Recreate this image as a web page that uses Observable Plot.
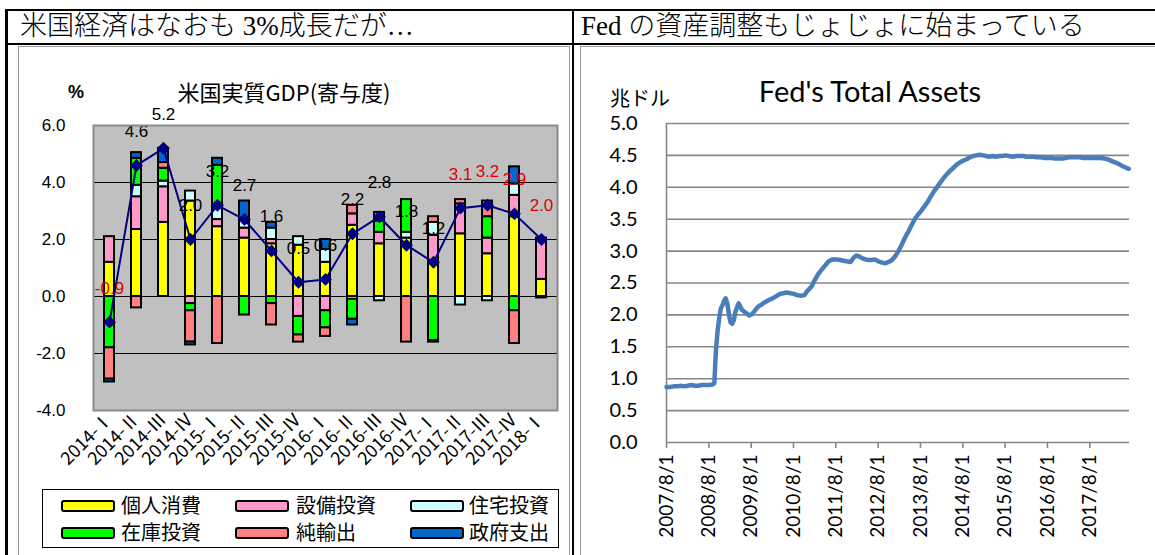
<!DOCTYPE html>
<html><head><meta charset="utf-8">
<script src="https://cdn.jsdelivr.net/npm/d3@7"></script>
<script src="https://cdn.jsdelivr.net/npm/@observablehq/plot@0.6"></script>
<style>
html,body{margin:0;padding:0;background:#fff;}
body{width:1155px;height:555px;overflow:hidden;position:relative;font-family:"Noto Sans CJK JP",sans-serif;}
.abs{position:absolute;}
.ctr{position:absolute;transform:translate(-50%,-50%);white-space:nowrap;}
.hdr{position:absolute;white-space:nowrap;font-family:"Liberation Serif","Noto Sans CJK JP",serif;font-size:27px;line-height:1;color:#000;font-weight:300;}
.sw{position:absolute;width:50px;height:8px;border:2px solid #000;border-radius:3px;}
.lt{position:absolute;font-size:20px;line-height:1;white-space:nowrap;color:#000;}
svg{background:transparent !important;}
</style></head><body>
<script>
// ---------- Left chart data: US real GDP contributions ----------
const quarters = ["2014-Ⅰ","2014-Ⅱ","2014-Ⅲ","2014-Ⅳ","2015-Ⅰ","2015-Ⅱ","2015-Ⅲ","2015-Ⅳ","2016-Ⅰ","2016-Ⅱ","2016-Ⅲ","2016-Ⅳ","2017-Ⅰ","2017-Ⅱ","2017-Ⅲ","2017-Ⅳ","2018-Ⅰ"];
const components = ["個人消費","設備投資","住宅投資","在庫投資","純輸出","政府支出"];
const componentColors = ["#FFFF00","#FF99CC","#CCFFFF","#00FF00","#FF8080","#0066CC"];
const personal    = [1.2, 2.35, 2.6, 3.35, 2.45, 2.05, 1.85, 1.8, 1.2, 2.5, 1.85, 2.05, 1.2, 2.2, 1.5, 2.8, 0.6];
const business    = [0.9, 1.15, 1.25, -0.25, 0.25, 0.35, 0.15, -0.7, -0.5, 0.4, 0.4, 0.0, 0.95, 1.05, 0.55, 0.75, 1.45];
const residential = [0.0, 0.4, 0.2, 0.35, 0.4, 0.3, 0.4, 0.3, 0.45, -0.1, -0.15, 0.2, 0.45, -0.3, -0.15, 0.4, 0.0];
const inventory   = [-1.8, 0.95, 0.45, -0.25, 1.5, -0.65, -0.25, -0.65, -0.6, -0.7, 0.4, 1.15, -1.55, 0.0, 0.75, -0.5, 0.0];
const netExports  = [-1.1, -0.4, 0.2, -1.1, -1.65, 0.0, -0.75, -0.25, -0.3, 0.3, 0.3, -1.6, 0.2, 0.15, 0.55, -1.15, 0.0];
const government  = [-0.1, 0.2, 0.5, -0.1, 0.25, 0.65, 0.2, 0.0, 0.35, -0.2, 0.0, 0.0, -0.05, 0.0, 0.0, 0.6, -0.05];
const gdpTotal    = [-0.9, 4.6, 5.2, 2.0, 3.2, 2.7, 1.6, 0.5, 0.6, 2.2, 2.8, 1.8, 1.2, 3.1, 3.2, 2.9, 2.0];
const redLabels   = ["2014-Ⅰ","2017-Ⅱ","2017-Ⅲ","2017-Ⅳ","2018-Ⅰ"];
const gdpYTicks   = [-4, -2, 0, 2, 4, 6];
const gdpGrid     = [-2, 0, 2, 4];

// ---------- Right chart data: Fed total assets (trillion USD) ----------
const fedDates = ["2007-08-01","2007-09-01","2007-10-01","2007-11-01","2007-12-01","2008-01-01","2008-02-01","2008-03-01","2008-04-01","2008-05-01","2008-06-01","2008-07-01","2008-08-01","2008-09-03","2008-09-17","2008-09-24","2008-10-01","2008-10-15","2008-10-29","2008-11-12","2008-11-26","2008-12-10","2008-12-24","2009-01-07","2009-01-21","2009-02-04","2009-02-18","2009-03-04","2009-03-18","2009-04-01","2009-04-15","2009-04-29","2009-05-13","2009-06-03","2009-06-24","2009-07-15","2009-08-05","2009-08-26","2009-09-16","2009-10-07","2009-10-28","2009-11-18","2009-12-09","2010-01-06","2010-02-03","2010-03-03","2010-04-07","2010-05-05","2010-06-02","2010-07-07","2010-08-04","2010-09-01","2010-10-06","2010-11-03","2010-12-01","2011-01-05","2011-02-02","2011-03-02","2011-04-06","2011-05-04","2011-06-01","2011-07-06","2011-08-03","2011-09-07","2011-10-05","2011-11-02","2011-12-07","2012-01-04","2012-01-25","2012-02-15","2012-03-14","2012-04-11","2012-05-09","2012-06-06","2012-07-04","2012-08-01","2012-09-05","2012-10-03","2012-10-31","2012-11-28","2012-12-26","2013-01-23","2013-02-20","2013-03-20","2013-04-17","2013-05-15","2013-06-12","2013-07-10","2013-08-07","2013-09-04","2013-10-02","2013-10-30","2013-11-27","2013-12-25","2014-01-22","2014-02-19","2014-03-19","2014-04-16","2014-05-14","2014-06-11","2014-07-09","2014-08-06","2014-09-03","2014-10-01","2014-10-29","2014-11-26","2014-12-24","2015-01-21","2015-02-18","2015-03-18","2015-04-15","2015-05-13","2015-06-10","2015-07-08","2015-08-05","2015-09-02","2015-10-07","2015-11-04","2015-12-02","2016-01-06","2016-02-03","2016-03-02","2016-04-06","2016-05-04","2016-06-01","2016-07-06","2016-08-03","2016-09-07","2016-10-05","2016-11-02","2016-12-07","2017-01-04","2017-02-01","2017-03-01","2017-04-05","2017-05-03","2017-06-07","2017-07-05","2017-08-02","2017-09-06","2017-10-04","2017-11-01","2017-12-06","2018-01-03","2018-02-07","2018-03-07","2018-04-04","2018-05-02","2018-06-06","2018-07-04"];
const fedAssets = [0.87,0.87,0.88,0.88,0.89,0.88,0.89,0.90,0.89,0.89,0.90,0.90,0.90,0.91,0.93,1.20,1.45,1.75,1.95,2.10,2.15,2.22,2.26,2.18,2.00,1.88,1.86,1.92,2.05,2.12,2.18,2.13,2.08,2.05,2.02,1.99,2.01,2.05,2.10,2.14,2.16,2.19,2.21,2.24,2.26,2.29,2.33,2.34,2.35,2.34,2.33,2.31,2.30,2.31,2.38,2.45,2.55,2.64,2.72,2.78,2.84,2.87,2.87,2.86,2.85,2.84,2.83,2.90,2.93,2.92,2.89,2.87,2.86,2.86,2.87,2.84,2.82,2.81,2.83,2.86,2.92,3.00,3.10,3.21,3.30,3.40,3.50,3.57,3.63,3.70,3.77,3.86,3.94,4.01,4.08,4.15,4.21,4.26,4.31,4.36,4.39,4.42,4.44,4.47,4.49,4.50,4.51,4.50,4.49,4.48,4.49,4.48,4.49,4.49,4.50,4.49,4.48,4.49,4.49,4.49,4.48,4.48,4.48,4.47,4.47,4.46,4.46,4.46,4.45,4.45,4.45,4.46,4.47,4.47,4.47,4.47,4.46,4.46,4.46,4.46,4.46,4.46,4.45,4.44,4.41,4.39,4.37,4.34,4.31,4.29];
const fedYTicks = [0, 0.5, 1, 1.5, 2, 2.5, 3, 3.5, 4, 4.5, 5];
const fedXTickLabels = ["2007/8/1","2008/8/1","2009/8/1","2010/8/1","2011/8/1","2012/8/1","2013/8/1","2014/8/1","2015/8/1","2016/8/1","2017/8/1"];
const fedXDomain = ["2007-08-01","2018-07-10"];

// ---------- Page frame (table) ----------
function el(html){ const t=document.createElement("template"); t.innerHTML=html.trim(); const n=t.content.firstChild; document.body.appendChild(n); return n; }
el(`<div class="abs" style="left:6px;top:9px;width:1160px;height:0;border-top:2px solid #000"></div>`);
el(`<div class="abs" style="left:6px;top:43px;width:1160px;height:0;border-top:2px solid #000"></div>`);
el(`<div class="abs" style="left:5px;top:9px;width:0;height:560px;border-left:3px solid #000"></div>`);
el(`<div class="abs" style="left:572px;top:9px;width:0;height:560px;border-left:2px solid #000"></div>`);
el(`<div class="hdr" style="left:20px;top:13px">米国経済はなおも 3%成長だが…</div>`);
el(`<div class="hdr" style="left:581px;top:13px">Fed の資産調整もじょじょに始まっている</div>`);
el(`<div class="abs" style="left:18px;top:46px;width:550px;height:520px;border:1px solid #9a9a9a"></div>`);
el(`<div class="abs" style="left:580px;top:46px;width:600px;height:520px;border:1px solid #9a9a9a"></div>`);

// ---------- Left chart ----------
const gdpRows = [];
const series = [personal, business, residential, inventory, netExports, government];
quarters.forEach((q, i) => series.forEach((arr, k) => { if (arr[i] !== 0) gdpRows.push({q, comp: components[k], v: arr[i]}); }));
const totRows = quarters.map((q, i) => ({q, v: gdpTotal[i]}));

const left = Plot.plot({
  width: 548, height: 440,
  marginLeft: 73, marginRight: 11, marginTop: 79, marginBottom: 76,
  style: {fontFamily: "'Liberation Sans','Noto Sans CJK JP',sans-serif", color: "#000", background: "transparent"},
  x: {domain: quarters, paddingInner: 0.617, paddingOuter: 0.27, label: null},
  y: {domain: [-4, 6], label: null},
  color: {domain: components, range: componentColors},
  marks: [
    Plot.frame({fill: "#C0C0C0", stroke: "none"}),
    Plot.ruleY(gdpGrid, {stroke: "#000", strokeWidth: 1}),
    Plot.barY(gdpRows, {x: "q", y: "v", fill: "comp", stroke: "#000", strokeWidth: 2}),
    Plot.line(totRows, {x: "q", y: "v", stroke: "#000080", strokeWidth: 2}),
    Plot.dot(totRows, {x: "q", y: "v", symbol: "diamond2", r: 5.8, fill: "#000080", stroke: "none"}),
    Plot.text(totRows, {x: "q", y: "v", text: d => d.v.toFixed(1), dy: -34, fontSize: 17,
      fill: d => redLabels.includes(d.q) ? "#E00000" : "#000"}),
    Plot.axisY({ticks: gdpYTicks, tickFormat: d => d.toFixed(1), tickSize: 0, tickPadding: 28, fontSize: 17, label: null}),
    Plot.axisX({tickRotate: -45, tickSize: 0, tickPadding: 6, fontSize: 18, fontFamily: "'Noto Sans CJK JP',sans-serif", label: null}),
    Plot.frame({stroke: "#8a8a8a", strokeWidth: 2})
  ]
});
left.style.position = "absolute"; left.style.left = "20px"; left.style.top = "46px";
document.body.appendChild(left);

el(`<div class="ctr" style="left:284px;top:91px;font-size:22px;font-weight:400">米国実質GDP(寄与度)</div>`);
el(`<div class="ctr" style="left:76px;top:92px;font-size:18px;font-weight:bold;font-family:'Liberation Sans',sans-serif">%</div>`);

// legend
const lg = el(`<div class="abs" style="left:42px;top:489px;width:515px;height:57px;border:1px solid #000;background:#fff"></div>`);
const swX = [18, 192, 367], txX = [78, 253, 426], rowY = [16, 43];
components.forEach((c, i) => {
  const col = i % 3, row = Math.floor(i / 3);
  const s = document.createElement("div"); s.className = "sw";
  s.style.left = swX[col] + "px"; s.style.top = (rowY[row] - 6) + "px"; s.style.background = componentColors[i];
  lg.appendChild(s);
  const t = document.createElement("div"); t.className = "lt"; t.textContent = c;
  t.style.left = txX[col] + "px"; t.style.top = (rowY[row] - 11) + "px";
  lg.appendChild(t);
});

// ---------- Right chart ----------
const fedRows = fedDates.map((d, i) => ({date: new Date(d), v: fedAssets[i]}));
const fedTicks = fedXTickLabels.map(s => { const [y, m, d] = s.split("/").map(Number); return new Date(Date.UTC(y, m - 1, d)); });
const right = Plot.plot({
  width: 572, height: 509,
  marginLeft: 84, marginRight: 25, marginTop: 77, marginBottom: 113,
  style: {fontFamily: "Lato,'Noto Sans',sans-serif", color: "#000", background: "transparent"},
  x: {type: "utc", domain: fedXDomain.map(d => new Date(d)), label: null},
  y: {domain: [0, 5], label: null},
  marks: [
    Plot.ruleY(fedYTicks, {stroke: "#868686", strokeWidth: 1.6}),
    Plot.ruleX([new Date(fedXDomain[0])], {stroke: "#868686", strokeWidth: 1.6}),
    Plot.line(fedRows, {x: "date", y: "v", stroke: "#4A7EBB", strokeWidth: 4.5, strokeLinejoin: "round"}),
    Plot.axisY({ticks: fedYTicks, tickFormat: d => d.toFixed(1), tickSize: 0, tickPadding: 29, fontSize: 20, label: null}),
    Plot.axisX({ticks: fedTicks, tickFormat: (d, i) => fedXTickLabels[i], tickRotate: -90, tickSize: 6, tickPadding: 6, stroke: "#868686", strokeWidth: 1.6, fontSize: 19, label: null})
  ]
});
right.style.position = "absolute"; right.style.left = "582px"; right.style.top = "46px";
document.body.appendChild(right);

el(`<div class="ctr" style="left:870px;top:90px;font-size:29px;font-family:Lato,'Noto Sans',sans-serif">Fed's Total Assets</div>`);
el(`<div class="ctr" style="left:640px;top:97px;font-size:20px">兆ドル</div>`);
</script>
</body></html>
